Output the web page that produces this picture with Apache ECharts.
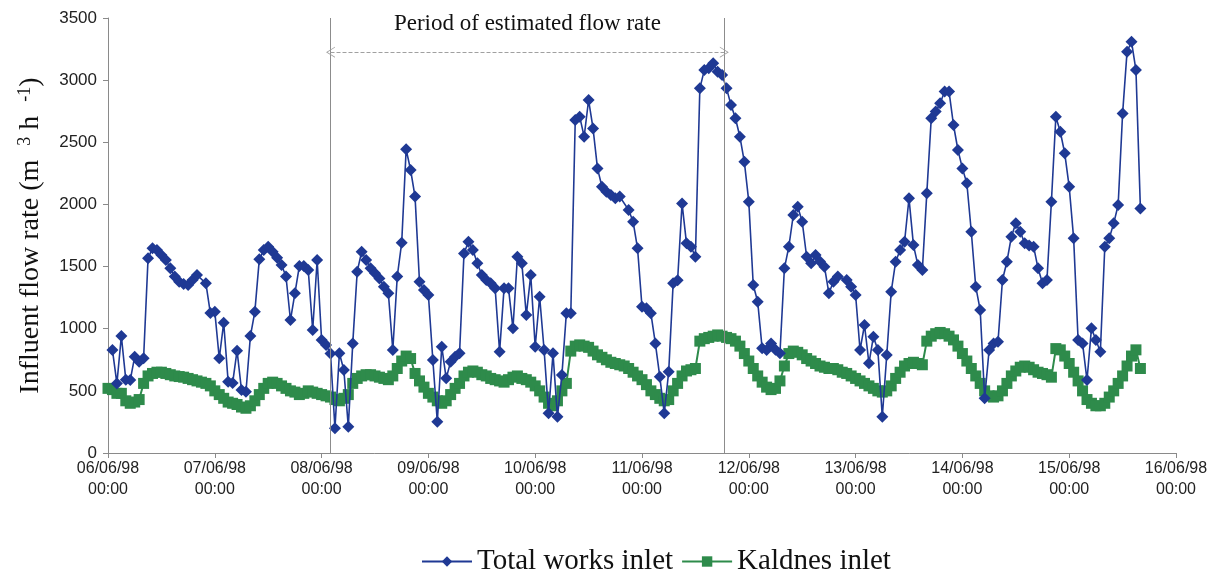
<!DOCTYPE html>
<html>
<head>
<meta charset="utf-8">
<script src="https://cdn.jsdelivr.net/npm/echarts@6/dist/echarts.min.js"></script>
<style>
html,body{margin:0;padding:0;background:#fff;}
#chart{width:1228px;height:578px;}
</style>
</head>
<body>
<div id="chart"></div>
<script>
// x positions are hours after 06/06/98 00:00
var xTickLabels = ['06/06/98\n00:00','07/06/98\n00:00','08/06/98\n00:00','09/06/98\n00:00','10/06/98\n00:00','11/06/98\n00:00','12/06/98\n00:00','13/06/98\n00:00','14/06/98\n00:00','15/06/98\n00:00','16/06/98\n00:00'];
var yTicks = [0,500,1000,1500,2000,2500,3000,3500];

var totalHours = [1,2,3,4,5,6,7,8,9,10,11,12,13,14,15,16,17,18,19,20,22,23,24,25,26,27,28,29,30,31,32,33,34,35,36,37,38,39,40,41,42,43,44,45,46,47,48,49,50,51,52,53,54,55,56,57,58,59,60,61,62,63,64,65,66,67,68,69,70,71,72,73,74,75,76,77,78,79,80,81,82,83,84,85,86,87,88,89,90,91,92,93,94,95,96,97,98,99,100,101,102,103,104,105,106,107,108,109,110,111,112,113,114,115,117,118,119,120,121,122,123,124,125,126,127,128,129,130,131,132,133,134,135,136,137,138,139,140,141,142,143,144,145,146,147,148,149,150,151,152,153,154,155,156,157,158,159,160,161,162,163,164,166,167,168,169,170,171,172,173,174,175,176,177,178,179,180,181,182,183,184,185,186,187,188,189,190,191,192,193,194,195,196,197,198,199,200,201,202,203,204,205,206,207,208,209,210,211,212,213,214,215,216,217,218,219,220,221,222,223,224,225,226,227,228,229,230,231,232];
var totalFlow = [828,560,941,590,587,775,735,763,1566,1648,1633,1593,1553,1486,1420,1378,1360,1351,1392,1432,1365,1126,1137,762,1048,574,563,823,507,493,941,1137,1558,1633,1660,1620,1570,1512,1420,1070,1285,1504,1504,1472,990,1553,909,869,800,200,802,668,212,882,1459,1620,1553,1486,1446,1405,1338,1285,829,1420,1692,2443,2277,2063,1378,1311,1271,748,252,855,601,735,775,802,1606,1700,1633,1526,1432,1392,1365,1325,815,1325,1325,1003,1579,1526,1110,1432,855,1257,829,319,802,292,627,1124,1124,2679,2706,2545,2840,2611,2290,2142,2102,2076,2049,2063,1955,1861,1647,1177,1164,1124,882,614,319,654,1365,1390,2008,1687,1660,1579,2934,3081,3095,3135,3068,3041,2934,2800,2693,2545,2343,2022,1352,1217,842,829,882,830,802,1486,1660,1915,1982,1861,1579,1526,1593,1540,1499,1285,1378,1420,1392,1338,1271,829,1030,722,936,829,292,788,1298,1539,1633,1700,2049,1673,1512,1472,2089,2693,2747,2814,2908,2908,2639,2438,2290,2170,1780,1338,1150,440,829,882,895,1392,1539,1740,1848,1780,1687,1670,1660,1486,1365,1392,2022,2706,2585,2411,2142,1727,909,882,587,1003,909,815,1660,1727,1848,1995,2731,3229,3309,3081,1968];

// Kaldnes inlet, hourly from 06/06/98 00:00
var kaldnesFlow = [
520,510,480,480,420,400,410,430,560,620,640,650,650,640,630,620,615,610,600,590,580,570,560,540,
500,470,440,410,400,390,370,360,380,420,470,520,560,570,560,540,520,500,490,470,480,500,490,480,
470,460,450,430,420,440,470,560,600,620,630,630,620,610,600,590,620,680,740,780,760,640,580,530,
480,450,420,400,420,470,520,560,620,650,660,650,630,620,600,590,580,570,590,610,620,600,590,570,
540,500,450,400,380,420,500,560,820,860,870,860,850,820,790,770,750,730,720,710,700,680,650,620,
590,550,500,470,440,420,430,500,560,620,660,670,680,900,920,930,940,950,940,930,920,900,860,800,
740,680,620,570,530,510,520,580,700,800,820,810,790,760,740,720,700,690,680,680,670,650,640,620,
600,580,560,540,520,500,490,500,540,600,650,700,720,730,720,710,900,940,960,970,960,940,910,860,
800,740,680,620,560,500,460,450,460,500,560,620,660,690,700,690,670,650,640,630,610,840,830,780,
720,650,580,500,430,400,380,380,400,450,500,560,620,700,780,830,680];

var periodBounds = [50, 138.5];   // hours: start / end of estimated flow period
var periodArrowLevel = 3225;
var periodLabel = 'Period of estimated flow rate';

var totalData = totalHours.map(function (h, i) { return [h, totalFlow[i]]; });
var kaldnesData = kaldnesFlow.map(function (v, i) { return [i, v]; });

var chevron = 'path://M0,0 L6,10 L5,10 L0,1.8 L-5,10 L-6,10 Z';

var chart = echarts.init(document.getElementById('chart'));
chart.setOption({
  animation: false,
  backgroundColor: '#ffffff',
  grid: { left: 108, right: 52, top: 18, bottom: 125 },
  xAxis: {
    type: 'value', min: 0, max: 240, interval: 24,
    axisLine: { lineStyle: { color: '#8a8a8a', width: 1 } },
    axisTick: { show: true, length: 5, lineStyle: { color: '#8a8a8a' } },
    splitLine: { show: false },
    axisLabel: {
      color: '#222', fontFamily: 'Liberation Sans', fontSize: 16, lineHeight: 21, margin: 5,
      formatter: function (v) { return xTickLabels[Math.round(v / 24)]; }
    }
  },
  yAxis: {
    type: 'value', min: yTicks[0], max: yTicks[yTicks.length - 1], interval: 500,
    axisLine: { show: true, lineStyle: { color: '#8a8a8a', width: 1 } },
    axisTick: { show: true, length: 5, lineStyle: { color: '#8a8a8a' } },
    splitLine: { show: false },
    axisLabel: { color: '#222', fontFamily: 'Liberation Sans', fontSize: 17, margin: 11,
      formatter: function (v) { return String(v); } },
    name: 'Influent flow rate (m  {sup|3} h  {sup|-1})',
    nameLocation: 'middle', nameGap: 62, nameRotate: 90,
    nameTextStyle: {
      fontFamily: 'Liberation Serif', fontSize: 28, color: '#111',
      rich: { sup: { fontFamily: 'Liberation Serif', fontSize: 18, color: '#111', padding: [0, 0, 12, 0] } }
    }
  },
  legend: {
    bottom: -3, left: 416, itemWidth: 50, itemHeight: 13, itemGap: 8,
    textStyle: { fontFamily: 'Liberation Serif', fontSize: 29, color: '#111' },
    data: ['Total works inlet', 'Kaldnes inlet']
  },
  series: [
    {
      name: 'Kaldnes inlet', type: 'line', data: kaldnesData, z: 2,
      symbol: 'rect', symbolSize: 11,
      itemStyle: { color: '#2e8b4b' },
      lineStyle: { color: '#2e8b4b', width: 2 }
    },
    {
      name: 'Total works inlet', type: 'line', data: totalData, z: 3,
      symbol: 'diamond', symbolSize: 12,
      itemStyle: { color: '#1f3994' },
      lineStyle: { color: '#1f3994', width: 1.6 },
      markLine: {
        silent: true, symbol: ['none', 'none'], animation: false,
        data: [
          { xAxis: periodBounds[0], lineStyle: { color: '#8c8c8c', width: 1, type: 'solid' }, label: { show: false } },
          { xAxis: periodBounds[1], lineStyle: { color: '#8c8c8c', width: 1, type: 'solid' }, label: { show: false } },
          [
            { coord: [periodBounds[0], periodArrowLevel], symbol: chevron, symbolSize: [11, 9] },
            { coord: [periodBounds[1], periodArrowLevel], symbol: chevron, symbolSize: [11, 9],
              lineStyle: { color: '#a0a0a0', width: 1, type: [4, 2] },
              label: { show: true, position: 'middle', formatter: periodLabel, distance: 17,
                fontFamily: 'Liberation Serif', fontSize: 23, color: '#111' } }
          ]
        ]
      }
    }
  ]
});
</script>
</body>
</html>
